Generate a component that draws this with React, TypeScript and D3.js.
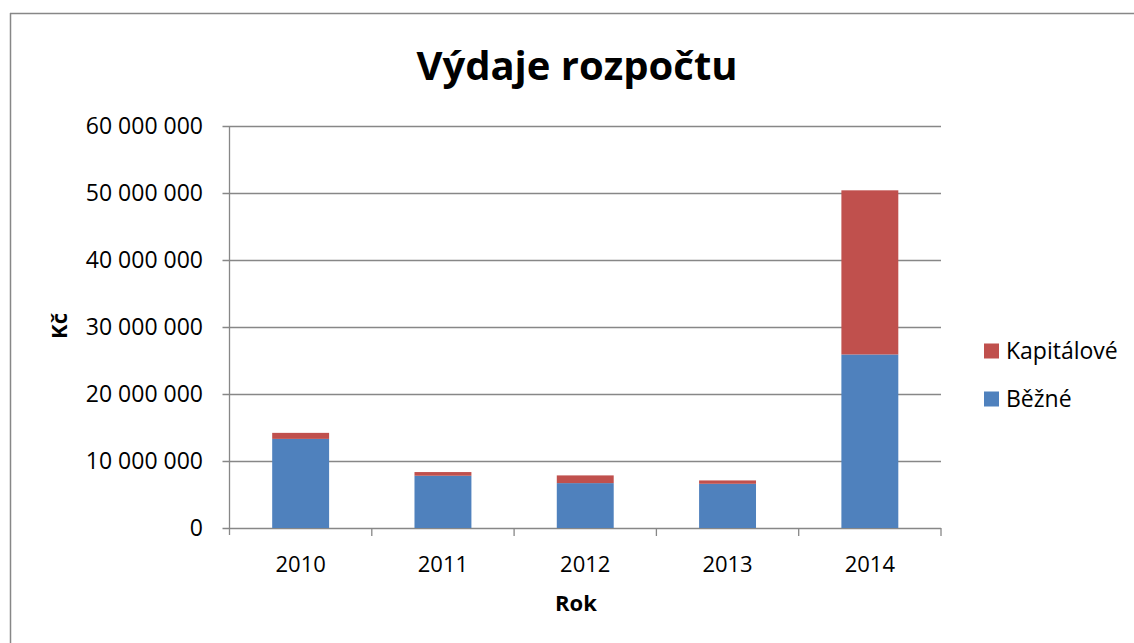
import React from "react";
import * as d3 from "d3";

const years = ["2010", "2011", "2012", "2013", "2014"];
const bezne = [13300000, 7800000, 6700000, 6600000, 25900000];
const kapitalove = [900000, 550000, 1150000, 500000, 24500000];
const yTicks = [0, 10000000, 20000000, 30000000, 40000000, 50000000, 60000000];
const seriesNames = ["Běžné", "Kapitálové"];
const seriesColors = ["#4F81BD", "#C0504D"];

const W = 1134;
const H = 643;
const M = { left: 229.5, right: 941, top: 126, bottom: 528 };
const FONT = "'Open Sans', sans-serif";

export default function App() {
  const x = d3.scaleBand<string>().domain(years).range([M.left, M.right]).paddingInner(0);
  const y = d3.scaleLinear().domain([0, 60000000]).range([M.bottom, M.top]);
  const rows = years.map((yr, i) => ({ year: yr, b: bezne[i], k: kapitalove[i] }));
  const stack = d3.stack<any>().keys(["b", "k"])(rows);
  const bw = x.bandwidth() * 0.4;
  const fmt = (v: number) => d3.format(",")(v).replace(/,/g, " ");
  const grid = "#878787";

  return (
    <svg width={W} height={H} style={{ position: "absolute", left: 0, top: 0, background: "#fff" }}>
      <line x1={10} y1={13.5} x2={W} y2={13.5} stroke={grid} strokeWidth={1.5} />
      <line x1={10.5} y1={13} x2={10.5} y2={H} stroke={grid} strokeWidth={1.5} />
      <text x={577} y={80} textAnchor="middle" fontFamily={FONT} fontWeight="bold" fontSize={40} fill="#000">
        Výdaje rozpočtu
      </text>
      {yTicks.map((t) => (
        <g key={t}>
          <line x1={M.left - 7} x2={M.right} y1={Math.round(y(t)) + 0.5} y2={Math.round(y(t)) + 0.5} stroke={grid} strokeWidth={1.3} />
          <text x={203} y={y(t)} dy="0.36em" textAnchor="end" fontFamily={FONT} fontSize={23} fill="#000">
            {fmt(t)}
          </text>
        </g>
      ))}
      <line x1={M.left} x2={M.left} y1={M.top} y2={M.bottom + 7} stroke={grid} strokeWidth={1.3} />
      {years.map((yr) => (
        <line key={"t" + yr} x1={x(yr)! + x.bandwidth()} x2={x(yr)! + x.bandwidth()} y1={M.bottom} y2={M.bottom + 8} stroke={grid} strokeWidth={1.3} />
      ))}
      {stack.map((s, si) => (
        <g key={si} fill={seriesColors[si]}>
          {s.map((d: any, i: number) => (
            <rect
              key={i}
              x={x(years[i])! + (x.bandwidth() - bw) / 2}
              y={y(d[1])}
              width={bw}
              height={y(d[0]) - y(d[1])}
            />
          ))}
        </g>
      ))}
      {years.map((yr) => (
        <text key={"l" + yr} x={x(yr)! + x.bandwidth() / 2} y={572} textAnchor="middle" fontFamily={FONT} fontSize={22} fill="#000">
          {yr}
        </text>
      ))}
      <text x={576} y={611} textAnchor="middle" fontFamily={FONT} fontWeight="bold" fontSize={22} fill="#000">
        Rok
      </text>
      <text transform="translate(67,326) rotate(-90)" textAnchor="middle" fontFamily={FONT} fontWeight="bold" fontSize={22} fill="#000">
        Kč
      </text>
      {[1, 0].map((si, li) => (
        <g key={"leg" + si}>
          <rect x={984} y={343.5 + li * 48} width={15} height={15} fill={seriesColors[si]} />
          <text x={1006} y={351 + li * 48} dy="0.36em" fontFamily={FONT} fontSize={23} fill="#000">
            {seriesNames[si]}
          </text>
        </g>
      ))}
    </svg>
  );
}
